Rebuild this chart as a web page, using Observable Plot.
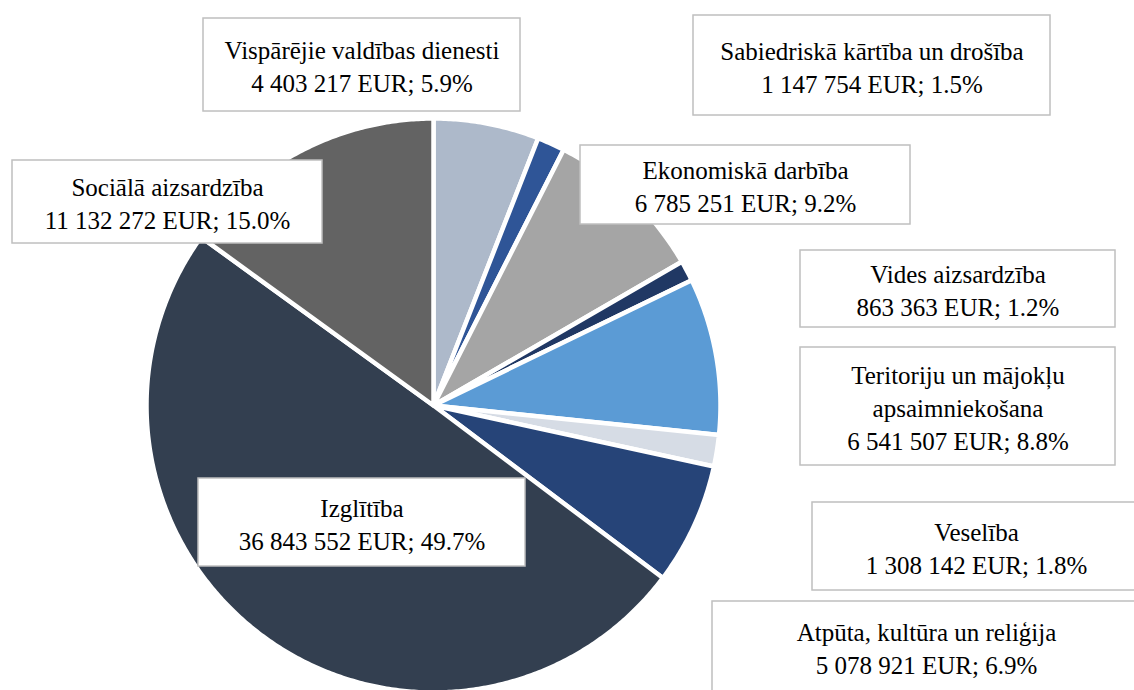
<!DOCTYPE html>
<html>
<head>
<meta charset="utf-8">
<script src="https://cdn.jsdelivr.net/npm/d3@7"></script>
<script src="https://cdn.jsdelivr.net/npm/@observablehq/plot@0.6"></script>
<style>
  html, body { margin: 0; padding: 0; background: #fff; overflow: hidden; }
</style>
</head>
<body>
<div id="chart"></div>
<script>
// ---- data ----
const categories = [
  "Vispārējie valdības dienesti",
  "Sabiedriskā kārtība un drošība",
  "Ekonomiskā darbība",
  "Vides aizsardzība",
  "Teritoriju un mājokļu\napsaimniekošana",
  "Veselība",
  "Atpūta, kultūra un reliģija",
  "Izglītība",
  "Sociālā aizsardzība"
];
const values = [4403217, 1147754, 6785251, 863363, 6541507, 1308142, 5078921, 36843552, 11132272];
const colors = ["#ADB9CA", "#2F5597", "#A5A5A5", "#203864", "#5B9BD5", "#D6DCE5", "#264478", "#333F50", "#636363"];

// ---- layout (pixels) ----
const W = 1134, H = 690;
const cx = 433, cy = 405, R = 287;
const boxes = [
  {x1: 203, x2: 520, y1: 18, y2: 111},
  {x1: 693, x2: 1050, y1: 15, y2: 115},
  {x1: 580, x2: 910, y1: 145, y2: 224},
  {x1: 800, x2: 1115, y1: 250, y2: 327},
  {x1: 800, x2: 1115, y1: 347, y2: 465},
  {x1: 812, x2: 1140, y1: 502, y2: 590},
  {x1: 712, x2: 1140, y1: 601, y2: 692},
  {x1: 198, x2: 525, y1: 478, y2: 566},
  {x1: 12, x2: 322, y1: 160, y2: 243}
];

const total = d3.sum(values);
const fmt = d3.formatLocale({decimal: ".", thousands: " ", grouping: [3], currency: ["", ""]}).format(",d");

const arcs = d3.pie().sort(null).value(d => d)(values);
const slicePts = [];
arcs.forEach((a, i) => {
  const name = categories[i];
  slicePts.push({name, x: cx, y: cy});
  const n = Math.max(2, Math.ceil((a.endAngle - a.startAngle) / (Math.PI / 360)));
  for (let k = 0; k <= n; k++) {
    const t = a.startAngle + (a.endAngle - a.startAngle) * k / n;
    slicePts.push({name, x: cx + R * Math.sin(t), y: cy - R * Math.cos(t)});
  }
  slicePts.push({name, x: cx, y: cy});
});

const labels = categories.map((c, i) => ({
  ...boxes[i],
  text: `${c}\n${fmt(values[i])} EUR; ${(values[i] / total * 100).toFixed(1)}%`
}));

const chart = Plot.plot({
  width: W,
  height: H,
  margin: 0,
  x: {domain: [0, W], axis: null},
  y: {domain: [0, H], reverse: true, axis: null},
  color: {domain: categories, range: colors},
  style: {background: "white", fontFamily: "'Liberation Serif', serif"},
  marks: [
    Plot.line(slicePts, {
      x: "x", y: "y", z: "name",
      fill: "name",
      stroke: "white",
      strokeWidth: 4.5,
      strokeLinejoin: "round"
    }),
    Plot.rect(labels, {
      x1: "x1", x2: "x2", y1: "y1", y2: "y2",
      fill: "white", stroke: "#BFBFBF", strokeWidth: 1.5
    }),
    Plot.text(labels, {
      x: d => (d.x1 + Math.min(d.x2, W + 6)) / 2,
      y: d => (d.y1 + d.y2) / 2,
      text: "text",
      fill: "black",
      fontFamily: "Liberation Serif",
      fontSize: 25,
      lineHeight: 1.33,
      textAnchor: "middle"
    })
  ]
});
document.getElementById("chart").append(chart);
</script>
</body>
</html>
